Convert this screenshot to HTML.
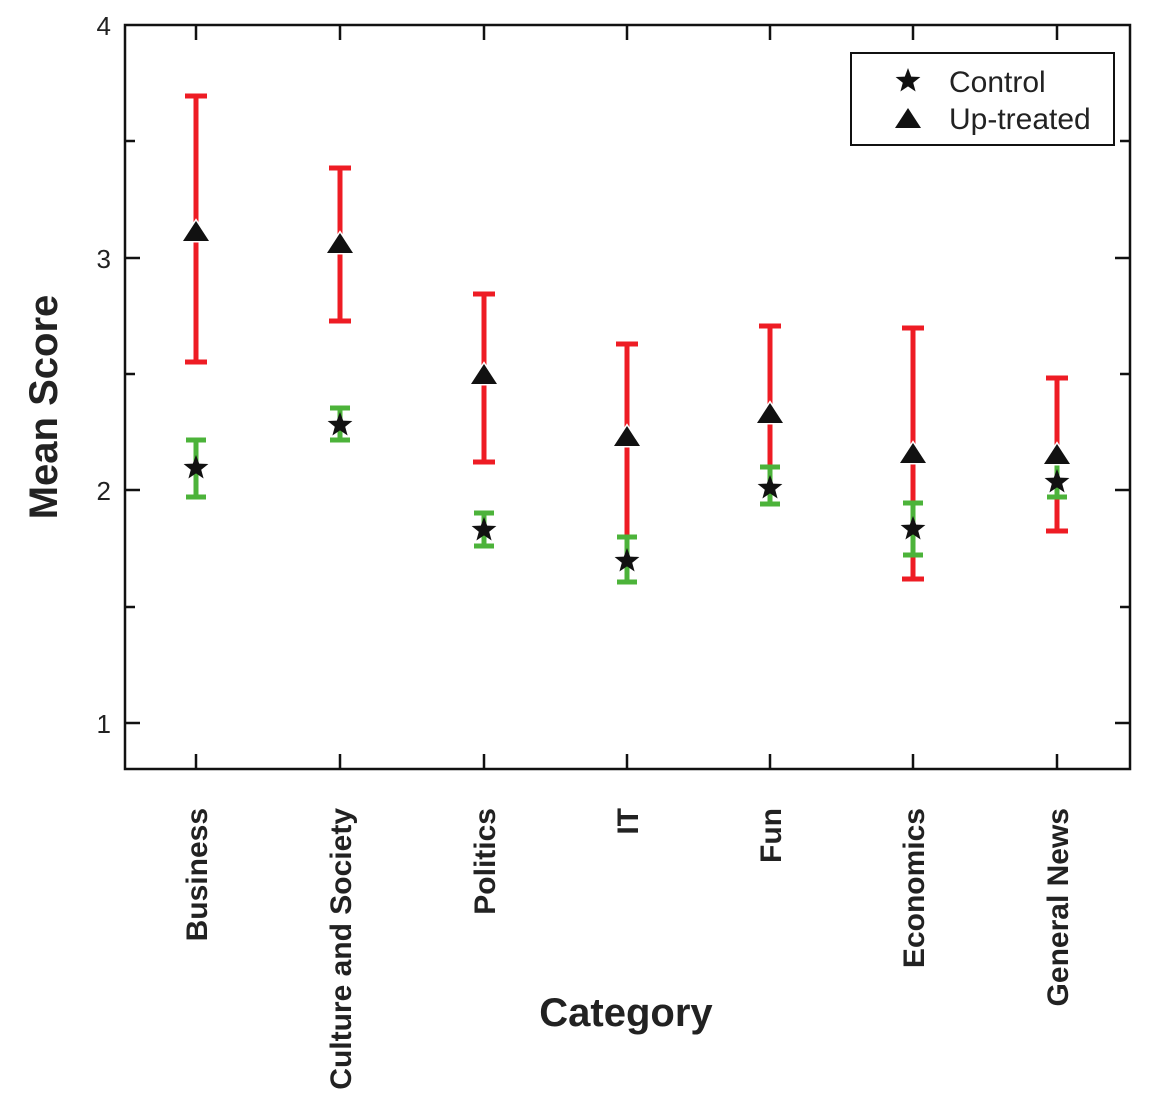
<!DOCTYPE html>
<html><head><meta charset="utf-8"><style>body{margin:0;background:#fff}svg{display:block}</style></head>
<body>
<svg width="1176" height="1113" viewBox="0 0 1176 1113" xmlns="http://www.w3.org/2000/svg" font-family="Liberation Sans, Arial, sans-serif">
<defs>
<polygon id="st" points="0,-13 3.2,-4.4 12.4,-4 5.2,1.7 7.6,10.5 0,5.4 -7.6,10.5 -5.2,1.7 -12.4,-4 -3.2,-4.4" fill="#111"/>
<polygon id="tr" points="0,-11 13,9 -13,9" fill="#111" stroke="#fff" stroke-width="3" paint-order="stroke"/>
</defs>
<g stroke="#ee1c24" stroke-width="5" fill="none">
<path d="M196 96V362M185 96H207M185 362H207"/>
<path d="M340 168V321M329 168H351M329 321H351"/>
<path d="M484 294V462M473 294H495M473 462H495"/>
<path d="M627 344V540M616 344H638"/>
<path d="M770 326V470M759 326H781"/>
<path d="M913 328V579M902 328H924M902 579H924"/>
<path d="M1057 378V531M1046 378H1068M1046 531H1068"/>
</g>
<g stroke="#4cb33a" stroke-width="5" fill="none">
<path d="M196 440V497M186 440H206M186 497H206"/>
<path d="M340 408V440M330 408H350M330 440H350"/>
<path d="M484 513V546M474 513H494M474 546H494"/>
<path d="M627 537V582M617 537H637M617 582H637"/>
<path d="M770 467V504M760 467H780M760 504H780"/>
<path d="M913 503V555M903 503H923M903 555H923"/>
<path d="M1057 462V497M1047 462H1067M1047 497H1067"/>
</g>
<use href="#tr" x="196" y="232"/><use href="#tr" x="340" y="244"/><use href="#tr" x="484" y="375"/>
<use href="#tr" x="627" y="437"/><use href="#tr" x="770" y="414"/><use href="#tr" x="913" y="454"/><use href="#tr" x="1057" y="455"/>
<use href="#st" x="196" y="468"/><use href="#st" x="340" y="425"/><use href="#st" x="484" y="530"/>
<use href="#st" x="627" y="561"/><use href="#st" x="770" y="488"/><use href="#st" x="913" y="529"/><use href="#st" x="1057" y="482"/>
<g stroke="#111" stroke-width="2.5" fill="none">
<rect x="125" y="25" width="1005" height="744"/>
<path d="M125 258H140M125 490H140M125 723H140M125 141H135M125 374H135M125 607H135"/>
<path d="M1130 258H1115M1130 490H1115M1130 723H1115M1130 141H1120M1130 374H1120M1130 607H1120"/>
<path d="M196 25V40M340 25V40M484 25V40M627 25V40M770 25V40M913 25V40M1057 25V40"/>
<path d="M196 769V754M340 769V754M484 769V754M627 769V754M770 769V754M913 769V754M1057 769V754"/>
<rect x="851" y="53" width="263" height="92" stroke-width="2"/>
</g>
<use href="#st" x="908" y="81"/><use href="#tr" x="908" y="119"/>
<g font-size="30" fill="#222">
<text x="949" y="92">Control</text><text x="949" y="129">Up-treated</text>
</g>
<g font-size="26" fill="#222" text-anchor="end">
<text x="111" y="35">4</text><text x="111" y="268">3</text><text x="111" y="500">2</text><text x="111" y="733">1</text>
</g>
<text transform="translate(57,407) rotate(-90)" text-anchor="middle" font-size="40" font-weight="bold" fill="#222">Mean Score</text>
<text x="626" y="1026" text-anchor="middle" font-size="40" font-weight="bold" fill="#222">Category</text>
<g font-size="30" font-weight="bold" fill="#222" text-anchor="end">
<text transform="translate(207,808) rotate(-90)">Business</text>
<text transform="translate(351,808) rotate(-90)">Culture and Society</text>
<text transform="translate(495,808) rotate(-90)">Politics</text>
<text transform="translate(638,808) rotate(-90)">IT</text>
<text transform="translate(781,808) rotate(-90)">Fun</text>
<text transform="translate(924,808) rotate(-90)">Economics</text>
<text transform="translate(1068,808) rotate(-90)">General News</text>
</g>
</svg>
</body></html>
